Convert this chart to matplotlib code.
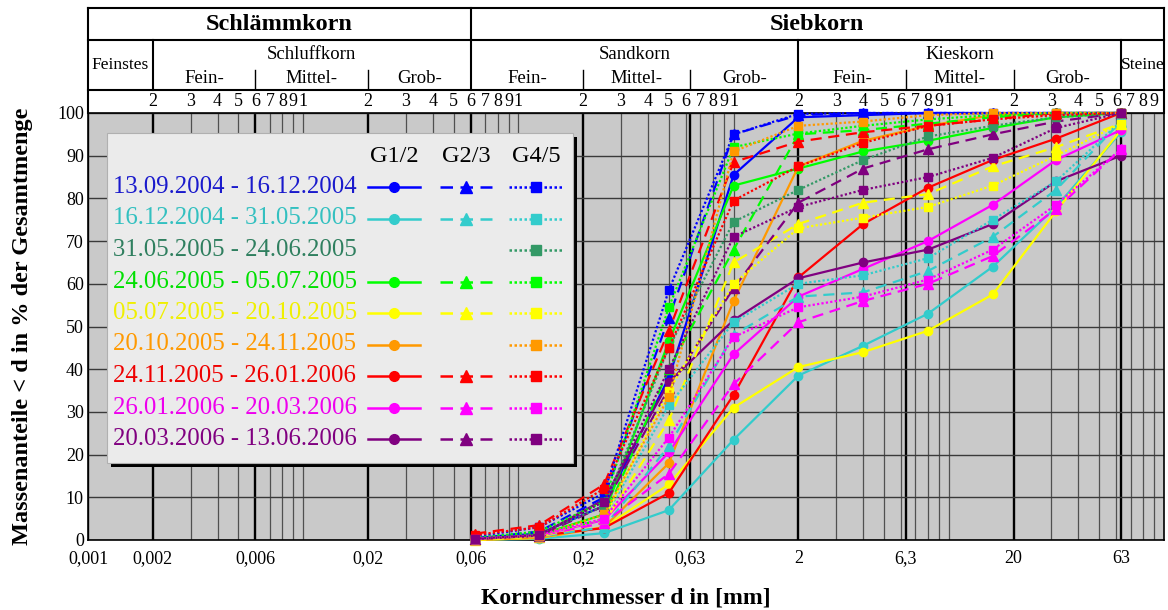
import matplotlib
matplotlib.use("Agg")
import matplotlib.pyplot as plt
from matplotlib.lines import Line2D
from matplotlib.patches import Rectangle
from matplotlib.ticker import FixedLocator, NullFormatter

plt.rcParams['font.family'] = ['Liberation Serif', 'DejaVu Serif']

# Siebweiten [mm]
sieve = [0.063, 0.125, 0.25, 0.5, 1, 2, 4, 8, 16, 31.5, 63]

periods = [
    "13.09.2004 - 16.12.2004",
    "16.12.2004 - 31.05.2005",
    "31.05.2005 - 24.06.2005",
    "24.06.2005 - 05.07.2005",
    "05.07.2005 - 20.10.2005",
    "20.10.2005 - 24.11.2005",
    "24.11.2005 - 26.01.2006",
    "26.01.2006 - 20.03.2006",
    "20.03.2006 - 13.06.2006",
]
colors = ["#0000ff", "#33cccc", "#339966", "#00ff00", "#ffff00",
          "#ff9900", "#ff0000", "#ff00ff", "#800080"]
text_colors = ["#1a1acc", "#33c0c0", "#2f7f5f", "#00e000", "#f0f000",
               "#ff9900", "#ee0000", "#ee00ee", "#800080"]

# Durchgang in % (None = keine Messung)
g12 = [
    [0.5, 1.5, 8, 38, 85.5, 99, 99.5, 100, 100, 100, 100],
    [0, 0.3, 1.6, 7, 23.5, 38.5, 45.5, 53, 64, 78, 95.5],
    None,
    [0.3, 1.2, 6, 46.5, 83, 87, 91, 93.5, 96.5, 99, 100],
    [0, 0.5, 3, 13, 31, 40.5, 44, 49, 57.5, 77, 96],
    [0, 0.5, 3, 18, 56, 87.5, 93.5, 97, 99.5, 100, 100],
    [0.3, 1, 2.8, 11, 34, 61.5, 74, 82.5, 89, 94, 100],
    [0.3, 1, 4.7, 20.5, 43.5, 57, 63.5, 70, 78.5, 89, 96],
    [0.2, 1, 9.5, 37, 51.5, 61.3, 65, 68, 74, 84, 90],
]
g23 = [
    [0.3, 2, 10, 52, 95, 99.5, 100, 100, 100, 100, 100],
    [0.2, 0.8, 3, 22, 48, 57, 58, 63, 71, 82, 98],
    None,
    [0.3, 1, 5, 40, 68, 95, 96, 97.5, 99, 100, 100],
    [0, 0.8, 4, 28, 65, 74, 79, 81, 87.5, 92, 97.5],
    None,
    [1.5, 3.5, 13, 49, 88.5, 93.3, 95.5, 97, 98.5, 100, 100],
    [0.3, 1, 4, 15.5, 36.5, 51, 56, 60, 66.5, 77.5, 91.5],
    [0.2, 1, 8, 35.5, 59, 79, 87, 91.5, 95, 98, 100],
]
g45 = [
    [0.8, 3, 11, 58.5, 95, 99.8, 100, 100, 100, 100, 100],
    [0.3, 1, 5, 31.5, 51, 60, 62, 66, 75, 84, 98],
    [0.5, 1.5, 8, 45, 74.5, 82, 89, 94.5, 97, 99, 100],
    [0.5, 2, 9, 54.5, 92, 95.2, 97, 98.5, 99.5, 100, 100],
    [0.3, 1, 5, 35, 60, 73, 75.5, 78, 83, 90, 97.5],
    [0.3, 1, 6, 33.5, 91, 97, 98, 99.5, 100, 100, 100],
    [1.2, 3, 12, 45, 79.5, 87.5, 93, 97, 98.5, 99.5, 100],
    [0.3, 1.2, 5, 24, 47.5, 54.5, 57, 61, 68, 78.5, 91.5],
    [0.3, 1.2, 9, 40, 71, 78, 82, 85, 89.5, 96.5, 100],
]

x_major = [0.001, 0.002, 0.006, 0.02, 0.06, 0.2, 0.63, 2, 6.3, 20, 63]
x_major_labels = ["0,001", "0,002", "0,006", "0,02", "0,06", "0,2",
                  "0,63", "2", "6,3", "20", "63"]

# Kopfzeile
main_classes = [("Schlämmkorn", 0.001, 0.06), ("Siebkorn", 0.06, 100)]
classes = [("Feinstes", 0.001, 0.002), ("Schluffkorn", 0.002, 0.06),
           ("Sandkorn", 0.06, 2), ("Kieskorn", 2, 63), ("Steine", 63, 100)]
sub_bounds = [0.002, 0.006, 0.02, 0.06, 0.2, 0.63, 2, 6.3, 20, 63]
sub_names = ["Fein-", "Mittel-", "Grob-"] * 3

styles = {
    "G1/2": dict(ls="-", marker="o", ms=6),
    "G2/3": dict(ls=(0, (5, 3)), marker="^", ms=7),
    "G4/5": dict(ls=(0, (1, 1)), marker="s", ms=6),
}

W, H = 1168, 610


def fx(x):
    return x / W


def fy(y):
    return 1 - y / H


fig = plt.figure(figsize=(W / 100, H / 100), dpi=100)
left, right, top, bottom = 88, 1164, 113, 540
ax = fig.add_axes([fx(left), fy(bottom), fx(right - left), (bottom - top) / H])
ax.set_facecolor("#c9c9c9")
ax.set_xscale("log")
ax.set_xlim(0.001, 100)
ax.set_ylim(0, 100)

minor = [m * 10.0 ** k for k in range(-3, 2) for m in range(1, 10)]
ax.xaxis.set_major_locator(FixedLocator(x_major))
ax.set_xticklabels(x_major_labels)
ax.xaxis.set_minor_locator(FixedLocator(minor))
ax.xaxis.set_minor_formatter(NullFormatter())
ax.set_yticks(range(0, 101, 10))
ax.tick_params(axis="both", which="both", length=0, labelsize=13)
ax.tick_params(axis="x", pad=7)
ax.tick_params(axis="y", pad=3)
ax.grid(True, which="minor", axis="x", color="#505050", lw=0.9)
ax.grid(True, which="major", axis="x", color="black", lw=1.7)
ax.grid(True, which="major", axis="y", color="#3a3a3a", lw=1.0)
ax.set_axisbelow(True)
for s in ax.spines.values():
    s.set_color("black")
    s.set_linewidth(1.2)

for group, data in [("G1/2", g12), ("G2/3", g23), ("G4/5", g45)]:
    st = styles[group]
    for vals, c in zip(data, colors):
        if vals is None:
            continue
        ax.plot(sieve, vals, color=c, lw=1.6, ls=st["ls"], marker=st["marker"],
                ms=st["ms"], mec=c, mfc=c, clip_on=False, zorder=3)

ax.set_xlabel("Korndurchmesser d in [mm]", fontsize=17, fontweight="bold", labelpad=15)
fig.text(0.019, fy(326), "Massenanteile < d in % der Gesamtmenge", rotation=90,
         fontsize=17.5, fontweight="bold", ha="center", va="center")

# Kopf
hx = fig.add_axes([fx(left), fy(top), fx(right - left), (top - 8) / H])
hx.set_xscale("log")
hx.set_xlim(0.001, 100)
hx.set_ylim(0, 1)
hx.axis("off")
r1, r2 = 0.695, 0.219
lk = dict(color="black", lw=1.5, clip_on=False)
hx.plot([0.001, 100], [1, 1], **lk)
hx.plot([0.001, 100], [r1, r1], **lk)
hx.plot([0.001, 100], [r2, r2], **lk)
hx.plot([0.001, 0.001], [0, 1], **lk)
hx.plot([100, 100], [0, 1], **lk)
hx.plot([0.06, 0.06], [r2, 1], **lk)
for b in [0.002, 2, 63]:
    hx.plot([b, b], [r2, r1], **lk)
for b in [0.006, 0.02, 0.2, 0.63, 6.3, 20]:
    hx.plot([b, b], [0.24, 0.41], color="black", lw=1.0)

for name, a, b in main_classes:
    hx.text((a * b) ** 0.5, (1 + r1) / 2, name, fontsize=17.5, fontweight="bold",
            ha="center", va="center")
for name, a, b in classes:
    single = name in ("Feinstes", "Steine")
    yy = (r1 + r2) / 2 if single else 0.555
    fs = 12.5 if single else 13.5
    hx.text((a * b) ** 0.5, yy, name, fontsize=fs, ha="center", va="center")
for i, name in enumerate(sub_names):
    a, b = sub_bounds[i], sub_bounds[i + 1]
    if i < 3:
        a, b = [0.002, 0.006, 0.02, 0.06][i], [0.002, 0.006, 0.02, 0.06][i + 1]
    hx.text((a * b) ** 0.5, 0.33, name, fontsize=13.5, ha="center", va="center")

for k in range(-3, 2):
    for m in range(2, 10):
        hx.text(m * 10.0 ** k, r2 / 2, str(m), fontsize=13, ha="center", va="center")
    if k < 1:
        hx.text(10.0 ** (k + 1), r2 / 2, "1", fontsize=13, ha="center", va="center")

# Legende
lx0, lx1, ly0, ly1 = 107, 573, 133, 463
fig.patches.append(Rectangle((fx(lx0 + 4), fy(ly1 + 4)), fx(lx1 - lx0), (ly1 - ly0) / H,
                             transform=fig.transFigure, facecolor="black",
                             edgecolor="none", zorder=5))
fig.patches.append(Rectangle((fx(lx0), fy(ly1)), fx(lx1 - lx0), (ly1 - ly0) / H,
                             transform=fig.transFigure, facecolor="#ebebeb",
                             edgecolor="#b0b0b0", lw=0.8, zorder=6))
cols = {"G1/2": (368, 420, 394), "G2/3": (440, 492, 466), "G4/5": (509, 563, 536)}
for g, (a, b, m) in cols.items():
    fig.text(fx(m), fy(157), g, fontsize=17.5, ha="center", va="center", zorder=7)
for i, (p, c, tc) in enumerate(zip(periods, colors, text_colors)):
    yy = 187 + 31.5 * i
    fig.text(fx(113), fy(yy), p, fontsize=17.8, color=tc, ha="left", va="center", zorder=7)
    for g, data in [("G1/2", g12), ("G2/3", g23), ("G4/5", g45)]:
        if data[i] is None:
            continue
        a, b, m = cols[g]
        st = styles[g]
        fig.lines.append(Line2D([fx(a), fx(b)], [fy(yy), fy(yy)], transform=fig.transFigure,
                                color=c, lw=1.8, ls=st["ls"], zorder=7))
        fig.lines.append(Line2D([fx(m)], [fy(yy)], transform=fig.transFigure, color=c,
                                marker=st["marker"], ms=st["ms"] + 1, mec=c, mfc=c, zorder=8))

fig.savefig("out.png", dpi=100, facecolor="white")
